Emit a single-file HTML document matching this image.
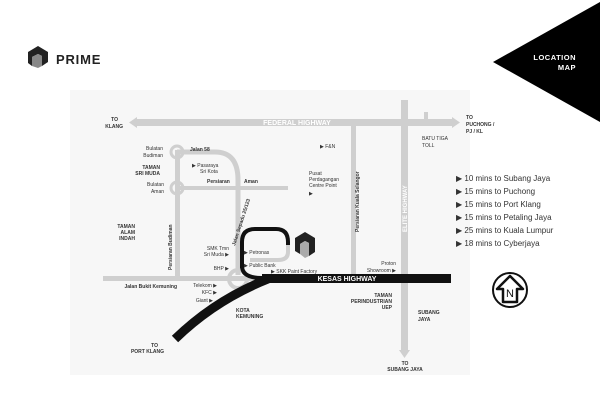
<!DOCTYPE html>
<html><head><meta charset="utf-8"><style>
html,body{margin:0;padding:0;background:#fff;}
svg{display:block;}
text{font-family:"Liberation Sans",sans-serif;}
</style></head><body>
<svg width="600" height="418" viewBox="0 0 600 418" xmlns="http://www.w3.org/2000/svg">
<rect width="600" height="418" fill="#fff"/>
<rect x="70" y="90" width="400" height="285" fill="#f7f7f7"/>
<!-- header -->
<polygon points="493,62 600,2 600,122" fill="#000"/>
<text x="576" y="60" font-size="7.5" fill="#fff" text-anchor="end" font-weight="bold" letter-spacing="0.5">LOCATION</text>
<text x="576" y="70" font-size="7.5" fill="#fff" text-anchor="end" font-weight="bold" letter-spacing="0.5">MAP</text>
<g transform="translate(28,46)">
<polygon points="0,6 10,0 20,6 20,16 14,20 14,10 10,8 4,11 4,20 0,17" fill="#222"/>
<polygon points="4,11 10,8 14,10 14,20 10,22 4,20" fill="#888"/>
</g>
<text x="56" y="64" font-size="13" font-weight="bold" fill="#222" letter-spacing="0.8">PRIME</text>
<!-- roads gray -->
<g fill="#cfcfcf">
<rect x="137" y="119" width="315" height="7"/>
<polygon points="137,117 129,122.5 137,128"/>
<polygon points="452,117 460,122.5 452,128"/>
<rect x="351" y="126" width="5" height="150"/>
<rect x="401" y="100" width="7" height="250"/>
<polygon points="399,350 404.5,358 410,350"/>
<rect x="424" y="112" width="4" height="14"/>
<rect x="103" y="276" width="160" height="5"/>
<rect x="175" y="150" width="5" height="126"/>
<rect x="177" y="186" width="111" height="4"/>
</g>
<g fill="none" stroke="#cfcfcf">
<path d="M177,152 H215 Q238,152 238,180 V275" stroke-width="5"/>
<circle cx="177" cy="152" r="6" stroke-width="3"/>
<circle cx="177" cy="188" r="6" stroke-width="3"/>
<path d="M288,245 V252 Q288,260 278,260 H250" stroke-width="4"/>
<circle cx="238" cy="279" r="9" stroke-width="4"/>
</g>
<text x="297" y="125" font-size="7" font-weight="bold" fill="#fff" text-anchor="middle">FEDERAL HIGHWAY</text>
<!-- black roads -->
<rect x="262" y="274" width="189" height="9" fill="#111"/>
<path d="M175,339 Q215,300 268,279" fill="none" stroke="#111" stroke-width="9"/>
<path d="M242,268 V242 Q242,229 255,229 H276 Q288,229 288,242 V245" fill="none" stroke="#111" stroke-width="4"/>
<path d="M242,266 Q242,278 262,278" fill="none" stroke="#111" stroke-width="4"/>
<text x="347" y="281" font-size="7" font-weight="bold" fill="#fff" text-anchor="middle">KESAS HIGHWAY</text>
<!-- building icon -->
<g transform="translate(295,232)">
<polygon points="0,6 10,0 20,6 20,20 14,24 14,11 10,9 5,12 5,22 0,19" fill="#222"/>
<polygon points="5,12 10,9 14,11 14,24 10,26 5,22" fill="#aaa"/>
</g>
<!-- labels -->
<g font-size="5" fill="#333">
<text x="118" y="121" font-weight="bold" text-anchor="end">TO</text>
<text x="123" y="128" font-weight="bold" text-anchor="end">KLANG</text>
<text x="466" y="119" font-weight="bold">TO</text>
<text x="466" y="126" font-weight="bold">PUCHONG /</text>
<text x="466" y="133" font-weight="bold">PJ / KL</text>
<text x="422" y="140">BATU TIGA</text>
<text x="422" y="147">TOLL</text>
<text x="163" y="150" text-anchor="end">Bulatan</text>
<text x="163" y="157" text-anchor="end">Budiman</text>
<text x="190" y="151" font-weight="bold">Jalan 58</text>
<text x="160" y="169" text-anchor="end" font-weight="bold">TAMAN</text>
<text x="160" y="175" text-anchor="end" font-weight="bold">SRI MUDA</text>
<text x="192" y="167">▶ Pasaraya</text>
<text x="200" y="173">Sri Kota</text>
<text x="207" y="183" font-weight="bold">Persiaran</text>
<text x="244" y="183" font-weight="bold">Aman</text>
<text x="164" y="186" text-anchor="end">Bulatan</text>
<text x="164" y="193" text-anchor="end">Aman</text>
<text x="135" y="228" text-anchor="end" font-weight="bold">TAMAN</text>
<text x="135" y="234" text-anchor="end" font-weight="bold">ALAM</text>
<text x="135" y="240" text-anchor="end" font-weight="bold">INDAH</text>
<text x="320" y="148">▶ F&amp;N</text>
<text x="309" y="175">Pusat</text>
<text x="309" y="181">Perdagangan</text>
<text x="309" y="187">Centre Point</text>
<text x="309" y="195">▶</text>
<text x="229" y="250" text-anchor="end">SMK Tmn</text>
<text x="229" y="256" text-anchor="end">Sri Muda ▶</text>
<text x="244" y="254">▶ Petronas</text>
<text x="229" y="270" text-anchor="end">BHP ▶</text>
<text x="244" y="267">▶ Public Bank</text>
<text x="271" y="273">▶ SKK Paint Factory</text>
<text x="396" y="265" text-anchor="end">Proton</text>
<text x="396" y="272" text-anchor="end">Showroom ▶</text>
<text x="217" y="287" text-anchor="end">Telekom ▶</text>
<text x="217" y="294" text-anchor="end">KFC ▶</text>
<text x="213" y="302" text-anchor="end">Giant ▶</text>
<text x="177" y="288" text-anchor="end" font-weight="bold">Jalan Bukit Kemuning</text>
<text x="236" y="312" font-weight="bold">KOTA</text>
<text x="236" y="318" font-weight="bold">KEMUNING</text>
<text x="392" y="297" text-anchor="end" font-weight="bold">TAMAN</text>
<text x="392" y="303" text-anchor="end" font-weight="bold">PERINDUSTRIAN</text>
<text x="392" y="309" text-anchor="end" font-weight="bold">UEP</text>
<text x="418" y="314" font-weight="bold">SUBANG</text>
<text x="418" y="321" font-weight="bold">JAYA</text>
<text x="158" y="347" text-anchor="end" font-weight="bold">TO</text>
<text x="164" y="353" text-anchor="end" font-weight="bold">PORT KLANG</text>
<text x="405" y="365" text-anchor="middle" font-weight="bold">TO</text>
<text x="405" y="371" text-anchor="middle" font-weight="bold">SUBANG JAYA</text>
</g>
<g font-size="5" fill="#333" font-weight="bold">
<text transform="translate(172,270) rotate(-90)">Persiaran Budiman</text>
<text transform="translate(359,232) rotate(-90)">Persiaran Kuala Selangor</text>
<text transform="translate(235,246) rotate(-72)">Jalan Sepadu 25/123</text>
</g>
<text transform="translate(407,232) rotate(-90)" font-size="6" font-weight="bold" fill="#fff">ELITE HIGHWAY</text>
<!-- list -->
<g font-size="8" fill="#333">
<text x="456" y="181">▶ 10 mins to Subang Jaya</text>
<text x="456" y="194">▶ 15 mins to Puchong</text>
<text x="456" y="207">▶ 15 mins to Port Klang</text>
<text x="456" y="220">▶ 15 mins to Petaling Jaya</text>
<text x="456" y="233">▶ 25 mins to Kuala Lumpur</text>
<text x="456" y="246">▶ 18 mins to Cyberjaya</text>
</g>
<!-- compass -->
<circle cx="510" cy="290" r="17" fill="#fff" stroke="#111" stroke-width="2"/>
<polygon points="510,276 523,289 517,289 517,302 503,302 503,289 497,289" fill="#fff" stroke="#111" stroke-width="2.5" stroke-linejoin="round"/>
<text x="510" y="297" font-size="11" text-anchor="middle" fill="#111">N</text>
</svg>
</body></html>
